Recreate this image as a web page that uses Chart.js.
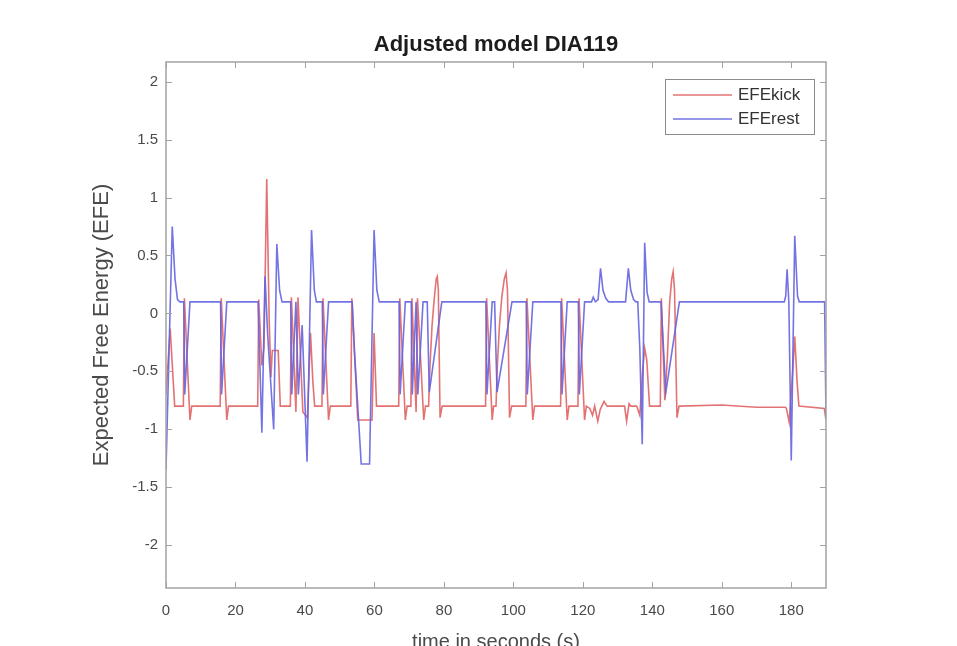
<!DOCTYPE html>
<html>
<head>
<meta charset="utf-8">
<title>Adjusted model DIA119</title>
<script src="https://cdn.jsdelivr.net/npm/chart.js@4.4.1/dist/chart.umd.min.js"></script>
<style>
  html, body { margin: 0; padding: 0; background: #fff; overflow: hidden; width: 957px; height: 646px; }
  #wrap { width: 957px; height: 680px; }
</style>
</head>
<body>
<div id="wrap"><canvas id="myChart" width="957" height="680"></canvas></div>
<script>
'use strict';

// DATA (time in s, EFE value)

const titleText = 'Adjusted model DIA119';
const xTitle = 'time in seconds (s)';
const yTitle = 'Expected Free Energy (EFE)';

const xTicks = [0, 20, 40, 60, 80, 100, 120, 140, 160, 180];
const yTicks = [-2, -1.5, -1, -0.5, 0, 0.5, 1, 1.5, 2];

const seriesNames = ['EFEkick', 'EFErest'];

const efeKick = [
  [0, -0.7], [1.2, -0.13], [2.5, -0.8],
  [5.0, -0.8], [5.3, 0.13], [6.9, -0.92], [7.4, -0.8],
  [15.6, -0.8], [15.9, 0.13], [17.5, -0.92], [18.0, -0.8],
  [26.4, -0.8], [26.7, 0.12], [27.6, -0.45], [28.2, -0.3], [29.0, 1.16], [29.7, -0.05], [30.2, -0.55],
  [30.6, -0.32], [32.3, -0.32], [32.9, -0.8],
  [35.8, -0.8], [36.1, 0.14], [37.4, -0.85], [38.0, 0.14], [39.4, -0.85], [40.7, -0.9], [41.6, -0.17],
  [42.3, -0.6], [42.8, -0.8],
  [44.9, -0.8], [45.2, 0.13], [46.8, -0.92], [47.3, -0.8],
  [53.2, -0.8], [53.5, 0.13], [55.2, -0.92], [59.3, -0.92], [59.9, -0.17], [60.6, -0.8],
  [67.0, -0.8], [67.3, 0.13], [68.9, -0.92], [69.4, -0.8],
  [70.5, -0.8], [70.8, 0.13], [72.0, -0.85], [72.4, 0.13], [74.2, -0.92], [74.7, -0.8],
  [75.6, -0.8], [76.0, -0.45], [76.6, -0.1], [77.2, 0.12], [77.8, 0.3], [78.1, 0.32], [78.4, 0.2],
  [78.9, -0.9], [79.5, -0.8],
  [92.0, -0.8], [92.3, 0.13], [93.9, -0.92], [94.3, -0.8],
  [95.0, -0.8], [95.4, -0.45], [96.0, -0.1], [96.7, 0.15], [97.4, 0.3], [97.9, 0.35], [98.3, 0.2],
  [98.9, -0.9], [99.5, -0.8],
  [103.6, -0.8], [103.9, 0.13], [105.6, -0.92], [106.1, -0.8],
  [113.6, -0.8], [113.9, 0.13], [115.5, -0.92], [116.0, -0.8],
  [118.6, -0.8], [118.9, 0.13], [120.5, -0.92], [121.0, -0.8],
  [122.0, -0.82], [122.8, -0.88], [123.4, -0.8], [124.3, -0.93], [125.0, -0.83], [126.1, -0.76], [127.0, -0.8],
  [132.0, -0.8], [132.6, -0.93], [133.3, -0.78], [133.8, -0.8],
  [135.5, -0.8], [136.4, -0.88], [137.2, -0.5], [137.8, -0.3], [138.4, -0.4], [139.2, -0.8],
  [142.3, -0.8], [142.6, 0.13], [143.6, -0.75], [144.3, -0.4], [145.0, 0.1], [145.6, 0.3], [146.0, 0.36],
  [146.4, 0.2], [147.1, -0.9], [147.7, -0.8],
  [160.0, -0.79], [170.0, -0.81], [178.3, -0.81],
  [178.6, -0.82], [179.4, -0.94], [180.2, -0.6], [181.0, -0.2], [181.7, -0.6], [182.2, -0.8],
  [189.5, -0.82], [190.0, -0.92]
];

const efeRest = [
  [0, -1.35], [1.8, 0.75], [2.6, 0.3], [3.3, 0.12], [4.0, 0.1],
  [5.1, 0.1], [5.4, -0.7], [6.9, 0.1],
  [15.7, 0.1], [16.0, -0.7], [17.5, 0.1],
  [26.5, 0.1], [27.6, -1.03], [28.5, 0.32], [29.3, -0.2], [31.0, -1.0], [31.9, 0.6], [32.7, 0.2], [33.4, 0.1],
  [35.9, 0.1], [36.2, -0.7], [37.4, 0.1], [38.1, -0.7], [39.2, -0.1], [40.6, -1.28], [41.9, 0.72],
  [42.7, 0.2], [43.3, 0.1],
  [45.0, 0.1], [45.3, -0.7], [46.8, 0.1],
  [53.6, 0.1], [54.3, -0.35], [56.2, -1.3], [58.6, -1.3], [59.9, 0.72], [60.7, 0.2], [61.4, 0.1],
  [67.1, 0.1], [67.4, -0.7], [68.9, 0.1],
  [70.6, 0.1], [70.9, -0.7], [72.0, 0.1], [72.5, -0.7], [74.0, 0.1],
  [75.2, 0.1], [75.8, -0.68], [79.4, 0.1],
  [92.1, 0.1], [92.4, -0.7], [93.9, 0.1],
  [94.6, 0.1], [95.3, -0.68], [99.6, 0.1],
  [103.7, 0.1], [104.0, -0.7], [105.6, 0.1],
  [113.7, 0.1], [114.0, -0.7], [115.5, 0.1],
  [118.7, 0.1], [119.0, -0.7], [120.5, 0.1],
  [122.5, 0.1], [123.0, 0.14], [123.6, 0.1], [124.4, 0.12], [125.1, 0.39], [125.8, 0.2], [126.6, 0.13], [127.4, 0.1],
  [132.3, 0.1], [133.1, 0.39], [133.8, 0.2], [134.6, 0.12], [135.3, 0.1],
  [135.8, 0.1], [136.4, -0.3], [137.1, -1.13], [137.8, 0.61], [138.5, 0.18], [139.1, 0.1],
  [142.5, 0.1], [143.9, -0.68], [147.8, 0.1],
  [178.0, 0.1], [178.4, 0.15], [178.8, 0.38], [179.3, 0.1], [180.0, -1.27], [181.0, 0.67], [181.8, 0.15], [182.3, 0.1],
  [189.6, 0.1], [190.0, -0.9]
];

// STYLE

const kickColor = 'rgba(224, 100, 100, 0.9)';
const restColor = 'rgba(100, 100, 224, 0.9)';
const axisColor = '#a3a3a3';
const textColor = '#4a4a4a';
const fontFamily = '"Liberation Sans", Arial, Helvetica, sans-serif';

function toPoints(pairs) {
  return pairs.map(p => ({ x: p[0], y: p[1] }));
}

// draws the box, inward ticks, title and legend like the matlab figure
const matlabDecor = {
  id: 'matlabDecor',
  afterDraw(chart) {
    let ctx = chart.ctx;
    let a = chart.chartArea;
    let xs = chart.scales.x;
    let ys = chart.scales.y;
    ctx.save();

    // ticks on all four sides, pointing in
    ctx.strokeStyle = axisColor;
    ctx.lineWidth = 1;
    ctx.beginPath();
    for (let i = 0; i < xTicks.length; i++) {
      let px = Math.round(xs.getPixelForValue(xTicks[i])) + 0.5;
      ctx.moveTo(px, a.bottom);
      ctx.lineTo(px, a.bottom - 6);
      ctx.moveTo(px, a.top);
      ctx.lineTo(px, a.top + 6);
    }
    for (let i = 0; i < yTicks.length; i++) {
      let py = Math.round(ys.getPixelForValue(yTicks[i])) + 0.5;
      ctx.moveTo(a.left, py);
      ctx.lineTo(a.left + 6, py);
      ctx.moveTo(a.right, py);
      ctx.lineTo(a.right - 6, py);
    }
    ctx.stroke();

    ctx.lineWidth = 1.5;
    ctx.strokeRect(a.left, a.top, a.right - a.left, a.bottom - a.top);

    // title
    ctx.fillStyle = '#1c1c1c';
    ctx.font = 'bold 22px ' + fontFamily;
    ctx.textAlign = 'center';
    ctx.textBaseline = 'middle';
    ctx.fillText(titleText, (a.left + a.right) / 2, 45);

    // legend box in the top right corner
    let boxLeft = 665;
    let boxTop = 79;
    let boxW = 149;
    let boxH = 55;
    ctx.fillStyle = '#ffffff';
    ctx.fillRect(boxLeft, boxTop, boxW, boxH);
    ctx.strokeStyle = '#8c8c8c';
    ctx.lineWidth = 1;
    ctx.strokeRect(boxLeft + 0.5, boxTop + 0.5, boxW, boxH);
    ctx.font = '17px ' + fontFamily;
    ctx.textAlign = 'left';
    let datasets = chart.data.datasets;
    for (let i = 0; i < datasets.length; i++) {
      let ly = boxTop + 16 + i * 24;
      ctx.strokeStyle = datasets[i].borderColor;
      ctx.lineWidth = 1.5;
      ctx.beginPath();
      ctx.moveTo(boxLeft + 8, ly);
      ctx.lineTo(boxLeft + 67, ly);
      ctx.stroke();
      ctx.fillStyle = '#333333';
      ctx.fillText(datasets[i].label, boxLeft + 73, ly);
    }
    ctx.restore();
  }
};

const data = {
  datasets: [
    {
      label: seriesNames[0],
      data: toPoints(efeKick),
      borderColor: kickColor,
      borderWidth: 1.6,
      pointRadius: 0,
      tension: 0,
      order: 1
    },
    {
      label: seriesNames[1],
      data: toPoints(efeRest),
      borderColor: restColor,
      borderWidth: 1.6,
      pointRadius: 0,
      tension: 0,
      order: 0
    }
  ]
};

const config = {
  type: 'line',
  data: data,
  options: {
    responsive: false,
    animation: false,
    layout: {
      padding: { top: 62, right: 131, bottom: 0, left: 0 }
    },
    plugins: {
      legend: { display: false },
      title: { display: false },
      tooltip: { enabled: false }
    },
    scales: {
      x: {
        type: 'linear',
        min: 0,
        max: 190,
        grid: { display: false, drawTicks: false },
        border: { display: false },
        afterBuildTicks: function(scale) {
          scale.ticks = xTicks.map(v => ({ value: v }));
        },
        afterFit: function(scale) {
          scale.height = 92;
        },
        ticks: {
          autoSkip: false,
          maxRotation: 0,
          padding: 14,
          color: textColor,
          font: { family: fontFamily, size: 15 },
          callback: v => String(v)
        },
        title: {
          display: true,
          text: xTitle,
          color: textColor,
          font: { family: fontFamily, size: 20 },
          padding: { top: 0, bottom: 26 }
        }
      },
      y: {
        type: 'linear',
        min: -2.37,
        max: 2.17,
        grid: { display: false, drawTicks: false },
        border: { display: false },
        afterBuildTicks: function(scale) {
          scale.ticks = yTicks.map(v => ({ value: v }));
        },
        afterFit: function(scale) {
          scale.width = 166;
        },
        ticks: {
          autoSkip: false,
          padding: 8,
          color: textColor,
          font: { family: fontFamily, size: 15 },
          callback: v => String(v)
        },
        title: {
          display: true,
          text: yTitle,
          color: textColor,
          font: { family: fontFamily, size: 22 },
          padding: { top: 89, bottom: 0 }
        }
      }
    }
  },
  plugins: [matlabDecor]
};

let canvas = document.getElementById('myChart').getContext('2d');
new Chart(canvas, config);
</script>
</body>
</html>
